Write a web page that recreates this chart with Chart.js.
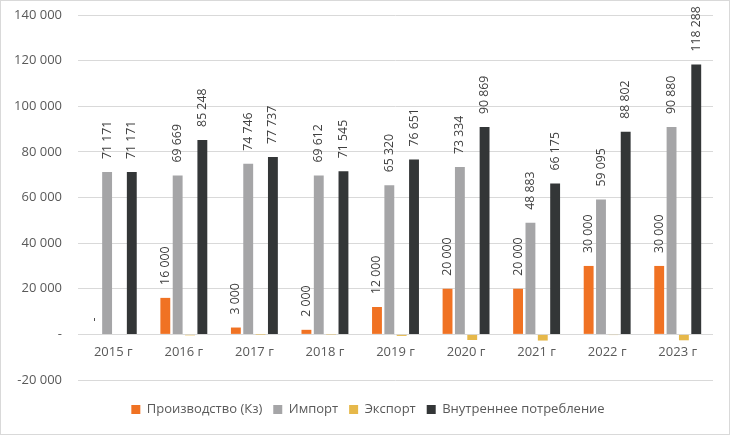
<!DOCTYPE html>
<html>
<head>
<meta charset="utf-8">
<script src="https://cdn.jsdelivr.net/npm/chart.js@4/dist/chart.umd.min.js"></script>
<style>
  html, body { margin: 0; padding: 0; background: #ffffff; }
  #wrap { width: 730px; height: 435px; box-sizing: border-box; border: 1px solid #D9D9D9; }
  canvas { display: block; }
</style>
</head>
<body>
<div id="wrap"><canvas id="c" width="728" height="433"></canvas></div>
<script>
const years = ['2015 г', '2016 г', '2017 г', '2018 г', '2019 г', '2020 г', '2021 г', '2022 г', '2023 г'];
const production = [0, 16000, 3000, 2000, 12000, 20000, 20000, 30000, 30000];
const imports = [71171, 69669, 74746, 69612, 65320, 73334, 48883, 59095, 90880];
const exports_ = [0, -421, -9, -67, -669, -2465, -2708, -293, -2592];
const consumption = [71171, 85248, 77737, 71545, 76651, 90869, 66175, 88802, 118288];
const seriesNames = ['Производство (Кз)', 'Импорт', 'Экспорт', 'Внутреннее потребление'];
const yTicks = [-20000, 0, 20000, 40000, 60000, 80000, 100000, 120000, 140000];

const FONT = '"Open Sans", "Liberation Sans", sans-serif';

function fmt(v) {
  if (v === 0) return '-';
  const s = Math.abs(Math.round(v)).toString().replace(/\B(?=(\d{3})+(?!\d))/g, ' ');
  return (v < 0 ? '-' : '') + s;
}

const labelPlugin = {
  id: 'barLabels',
  afterDatasetsDraw(chart) {
    const ctx = chart.ctx;
    ctx.save();
    ctx.font = '12.3px ' + FONT;
    ctx.fillStyle = '#404040';
    ctx.textAlign = 'left';
    ctx.textBaseline = 'middle';
    chart.data.datasets.forEach((ds, di) => {
      if (ds.showLabels === false) return;
      const meta = chart.getDatasetMeta(di);
      meta.data.forEach((bar, i) => {
        const v = ds.data[i];
        ctx.save();
        ctx.translate(bar.x, bar.y - 13);
        ctx.rotate(-Math.PI / 2);
        ctx.fillText(fmt(v), 0, 0);
        ctx.restore();
      });
    });
    ctx.restore();
  }
};

const legendSizer = {
  id: 'legendSizer',
  beforeLayout(chart) {
    const lg = chart.legend;
    if (lg && !lg._sized) {
      const f = lg.fit;
      lg.fit = function () { f.call(this); this.height = 54; };
      const d = lg.draw;
      lg.draw = function () {
        this.ctx.save();
        this.ctx.translate(4, 12);
        d.call(this);
        this.ctx.restore();
      };
      lg._sized = true;
    }
  }
};

new Chart(document.getElementById('c'), {
  type: 'bar',
  data: {
    labels: years,
    datasets: [
      { label: seriesNames[0], data: production, backgroundColor: '#F07223' },
      { label: seriesNames[1], data: imports, backgroundColor: '#A5A5A7' },
      { label: seriesNames[2], data: exports_, backgroundColor: '#E6B84A', showLabels: false },
      { label: seriesNames[3], data: consumption, backgroundColor: '#333637' }
    ]
  },
  options: {
    responsive: false,
    animation: false,
    layout: { padding: { top: 14, right: 16, left: 14, bottom: 0 } },
    datasets: { bar: { categoryPercentage: 0.7, barPercentage: 0.8 } },
    plugins: {
      legend: {
        position: 'bottom',
        labels: { boxWidth: 9, boxHeight: 9, color: '#595959', font: { size: 13, family: FONT }, padding: 11 }
      },
      tooltip: { enabled: false }
    },
    scales: {
      x: {
        position: { y: 0 },
        grid: { display: false, drawTicks: false },
        border: { display: false },
        ticks: { color: '#595959', font: { size: 13, family: FONT }, padding: 10, maxRotation: 0 }
      },
      y: {
        min: -20000, max: 140000,
        afterBuildTicks(scale) { scale.ticks = yTicks.map(v => ({ value: v })); },
        afterFit(scale) { scale.width = 63; scale.paddingTop = 0; scale.paddingBottom = 0; },
        grid: { color: '#D9D9D9', drawTicks: false, lineWidth: 1 },
        border: { display: false },
        ticks: { color: '#595959', font: { size: 13, family: FONT }, padding: 16, callback: v => fmt(v) }
      }
    }
  },
  plugins: [labelPlugin, legendSizer]
});
</script>
</body>
</html>
